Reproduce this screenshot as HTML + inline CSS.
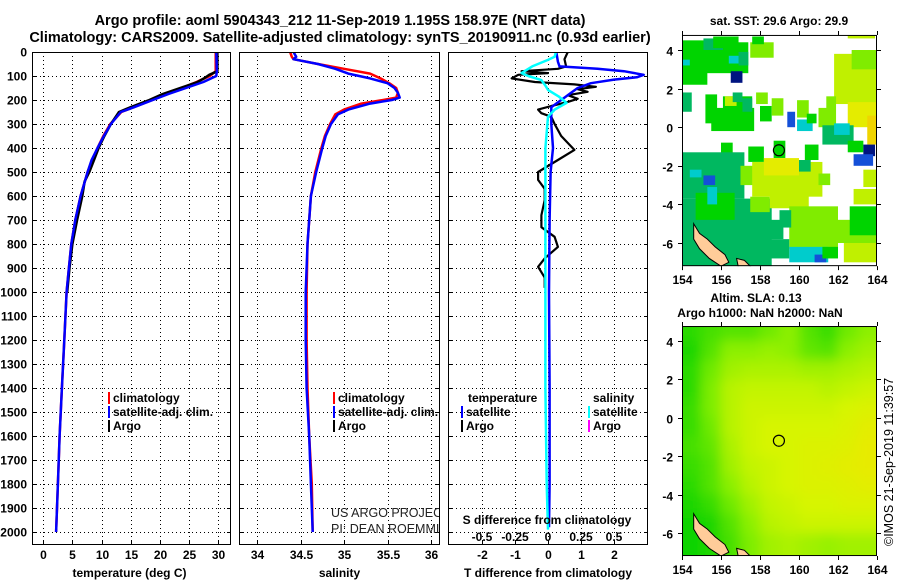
<!DOCTYPE html>
<html><head><meta charset="utf-8"><style>
body{margin:0;background:#fff}
svg{display:block;font-family:"Liberation Sans",sans-serif}
.b{font-weight:bold;font-size:12px}
</style></head><body>
<svg id="c" width="900" height="580" xmlns="http://www.w3.org/2000/svg"></svg>
<script>
// ---- data ----
const depthTicks=[0,100,200,300,400,500,600,700,800,900,1000,1100,1200,1300,1400,1500,1600,1700,1800,1900,2000];
const tempTicks=[0,5,10,15,20,25,30];
const salTicks=[34,34.5,35,35.5,36];
const tdTicks=[-2,-1,0,1,2];
const sdTicks=[-0.5,-0.25,0,0.25,0.5];
const sdTickLabels=["-0.5","-0.25","0","0.25","0.5"];
const argoDepth=[0,80,95,110,125,150,175,200,230,250,300,350,400,450,500,540,600,700,800,900,1000];
const argoTemp=[29.9,29.9,28.5,27.6,26.5,23.5,20.5,18.2,15,13,11.6,10.5,9.5,8.7,7.9,7.1,6.7,5.8,5.0,4.5,4.1];
const climDepth=[0,80,100,125,150,175,200,230,250,300,350,400,450,500,600,700,800,900,1000,1200,1400,1600,1800,2000];
const climTemp=[29.6,29.6,28.6,26.3,23.8,21,18.7,15.5,13.4,11.5,10.3,9.3,8.4,7.6,6.4,5.5,4.8,4.4,4.0,3.6,3.2,2.8,2.5,2.2];
const satTemp=[29.7,29.8,29.7,27.5,24.5,21.5,18.8,15.6,13.3,11.6,10.4,9.3,8.3,7.6,6.4,5.5,4.8,4.4,4.0,3.6,3.2,2.8,2.5,2.2];
const salDepth=[0,20,30,50,70,90,110,130,150,170,190,200,215,240,260,300,350,400,500,600,800,1000,1200,1400,1600,1800,2000];
const climSal=[34.38,34.4,34.42,34.7,35.0,35.3,35.42,35.52,35.6,35.62,35.6,35.45,35.2,35.0,34.9,34.84,34.78,34.74,34.67,34.62,34.58,34.57,34.57,34.58,34.6,34.63,34.64];
const satSal=[34.42,34.45,34.42,34.7,34.9,35.05,35.3,35.5,35.58,35.62,35.64,35.55,35.3,35.05,34.93,34.85,34.79,34.75,34.68,34.62,34.58,34.56,34.56,34.57,34.6,34.62,34.64];
const tdDepth=[0,40,60,70,80,95,105,115,130,150,170,190,210,230,260,300,400,500,700,1000,1400,1800,1980];
const satTdiff=[0.25,0.3,0.35,1.5,2.3,2.9,2.7,2.0,1.3,0.9,0.7,0.5,0.3,0.1,0.1,0.1,0.15,0.08,0.05,0.03,0.05,0.05,0.03];
const argoTdDepth=[0,30,60,70,80,88,95,110,125,135,145,155,166,180,195,208,225,240,255,270,300,350,408,450,500,533,570,617,680,730,770,812,860,895,940,983];
const argoTdiff=[0.6,0.5,0.55,0.3,-0.8,0.0,-0.9,-1.1,-0.4,0.8,1.45,0.9,1.2,0.6,0.9,0.6,0.1,-0.3,-0.2,0.1,0.2,0.4,0.8,0.3,-0.3,-0.3,-0.1,-0.1,-0.2,-0.2,0.2,0.3,-0.1,-0.3,-0.1,-0.1];
const sdDepth=[0,20,33,60,88,100,117,140,158,185,212,240,270,400,600,1000,1400,1800,1990];
const satSdiff=[0.06,0.05,0.0,-0.12,-0.2,-0.15,-0.05,-0.02,0.0,0.08,0.14,0.05,0.0,-0.02,-0.02,-0.02,-0.02,-0.01,0.0];
// SST map patches: lon, lat(bottom), dlon, dlat, colour class
const sstPatches=[[154,2.2,1.3,2.3,4],[154.8,2.8,2.6,1.6,4],[155.1,4.0,1,0.6,3],[155.6,4.1,1.3,0.6,4],[156.9,3.2,0.5,0.7,3],[154,3.2,0.4,0.3,2],[156.5,2.3,0.6,0.6,0],[156.4,3.3,0.5,0.4,2],[157.5,3.6,1.2,0.8,5],[157.6,4.3,0.6,0.4,4],[162.5,4.6,1.4,0.2,6],
[161.8,1.2,2.2,2.6,6],[162.7,3.0,1.3,1.0,5],[162.5,0.0,1.5,1.3,7],[163.5,-0.9,0.5,1.5,8],[161.4,-0.2,0.5,1.8,5],
[154,0.8,0.5,1.0,3],[155.2,0.2,0.6,1.5,4],[155.5,-0.2,2.2,1.2,4],[156.1,0.8,1.5,0.8,4],[156.2,1.1,0.6,0.5,6],[157.1,0.8,0.5,0.7,3],[158.0,0.3,0.6,0.8,4],[158.6,0.6,0.6,0.9,5],[159.9,0.5,0.6,0.9,5],[159.4,0.0,0.4,0.8,1],[159.9,-0.2,0.8,0.6,2],[160.4,0.2,0.5,0.5,4],[161,0.0,0.5,1.0,5],[157.8,1.2,0.6,0.6,5],[156.6,1.3,0.5,0.5,3],
[161.2,-0.9,1.6,1.0,3],[161.8,-0.4,0.8,0.6,2],[162.5,-1.3,0.8,0.6,4],[163.3,-1.5,0.6,0.6,0],[162.8,-2.0,1.0,0.6,1],[160.3,-1.7,0.7,0.8,4],[158.7,-1.6,0.6,0.9,4],[156.0,-1.5,0.6,0.7,4],[157.4,-1.8,0.8,0.8,4],
[154,-3.7,3.2,2.4,3],[154,-7.2,4.6,3.5,3],[154.7,-4.8,2.0,1.4,4],[157.0,-3.0,0.7,1.0,5],[155.1,-3.0,0.6,0.5,1],[155.3,-4.0,0.5,0.9,2],[154.4,-2.6,0.6,0.4,2],[157.5,-4.4,1.0,0.8,5],
[157.6,-3.6,3.6,1.8,6],[158.2,-2.5,1.8,0.9,7],[158.5,-4.2,2.0,0.8,6],[160.0,-2.3,0.6,0.6,3],[161.0,-3.0,0.6,0.6,5],
[159.5,-6.3,2.5,2.2,5],[161.8,-6.0,2.2,1.2,5],[162.6,-5.6,1.4,1.5,4],[159.5,-7.0,2.0,0.8,2],[160.8,-7.0,0.6,0.4,1],[162.3,-7.0,1.7,1.0,6],[162.8,-4.0,1.2,0.8,6],[163.3,-3.1,0.7,0.9,6],[161.2,-6.8,0.8,0.6,4],[157.6,-5.8,1.6,1.0,3],[158.3,-6.8,1.2,1.0,3],[159,-5.2,0.6,0.9,3]];
const sstColors=["#001480","#1450d8","#00cccc","#00b860","#00d400","#80ec00","#c0f000","#e4ec00","#f0d400"];
// SLA grid rows (top lat 4.5 -> bottom -6.5), cols lon 154.5..163.5
const slaLats=[4.5,3.5,2.5,1.5,0.5,-0.5,-1.5,-2.5,-3.5,-4.5,-5.5,-6.5];
const slaLons=[154.5,155.5,156.5,157.5,158.5,159.5,160.5,161.5,162.5,163.5];
const slaRows=[[0.15,0.25,0.3,0.3,0.4,0.5,0.3,0.2,0.4,0.5],[0.1,0.3,0.5,0.5,0.55,0.5,0.35,0.3,0.5,0.6],[0.15,0.4,0.6,0.65,0.65,0.65,0.6,0.6,0.65,0.7],[0.15,0.45,0.7,0.75,0.75,0.75,0.75,0.7,0.75,0.8],[0.2,0.45,0.7,0.8,0.8,0.8,0.8,0.8,0.85,0.9],[0.2,0.4,0.7,0.8,0.85,0.85,0.85,0.85,0.9,1.0],[0.25,0.35,0.65,0.8,0.85,0.85,0.9,0.9,0.95,1.05],[0.2,0.3,0.6,0.75,0.8,0.85,0.9,0.95,1.0,1.05],[0.15,0.3,0.5,0.7,0.8,0.85,0.9,0.9,0.95,1.0],[0.1,0.2,0.4,0.6,0.75,0.8,0.85,0.85,0.9,0.9],[0.05,0.1,0.3,0.5,0.7,0.75,0.8,0.8,0.8,0.8],[0.05,0.1,0.25,0.45,0.6,0.65,0.6,0.55,0.6,0.6]];
const latTicks=[4,2,0,-2,-4,-6];
const lonTicks=[154,156,158,160,162,164];
const argoLon=158.97, argoLat=-1.195;

// ---- helpers ----
const S=document.getElementById('c'),NS='http://www.w3.org/2000/svg';
function el(t,a,p){const e=document.createElementNS(NS,t);for(const k in a)e.setAttribute(k,a[k]);(p||S).appendChild(e);return e;}
function txt(x,y,s,a,p){const e=el('text',Object.assign({x:x,y:y},a),p);e.textContent=s;return e;}
const Y=d=>52+d*0.24, YB=545;
function lin(d0,d1,r0,r1){return v=>r0+(v-d0)*(r1-r0)/(d1-d0);}
function poly(xs,ys,fx,col,w,name,g){const pts=xs.map((v,i)=>fx(v).toFixed(1)+','+Y(ys[i]).toFixed(1)).join(' ');
 const e=el('polyline',{points:pts,fill:'none',stroke:col,'stroke-width':w,'stroke-linejoin':'round'},g);
 
 return e;}

const panels=[{x0:32,x1:231,f:lin(0,30,43.3,218),ticks:tempTicks,lab:tempTicks.map(String),title:'temperature (deg C)',n:'temperature-panel'},
 {x0:239,x1:440,f:lin(34,36,257,431),ticks:salTicks,lab:['34','34.5','35','35.5','36'],title:'salinity',n:'salinity-panel'},
 {x0:448,x1:648,f:lin(0,1,548,581),ticks:tdTicks,lab:tdTicks.map(String),title:'T difference from climatology',n:'difference-panel'}];

// title
const t1=txt(340,25,'Argo profile: aoml 5904343_212 11-Sep-2019 1.195S 158.97E (NRT data)',{'text-anchor':'middle','font-weight':'bold','font-size':'14.5px'});

const t2=txt(340,42,'Climatology: CARS2009. Satellite-adjusted climatology: synTS_20190911.nc (0.93d earlier)',{'text-anchor':'middle','font-weight':'bold','font-size':'14.5px'});


// depth labels
depthTicks.forEach(d=>{const e=txt(27,Y(d)+4.5,String(d),{'text-anchor':'end',class:'b'});
 });

const gs=[];
panels.forEach((p,i)=>{
 const g=el('g',{});gs.push(g);
 el('clipPath',{id:'cp'+i},g);el('rect',{x:p.x0,y:52,width:p.x1-p.x0,height:YB-52},g.lastChild);
 el('rect',{x:p.x0,y:52,width:p.x1-p.x0,height:YB-52,fill:'#fff'},g);
 const grid=el('g',{stroke:'#000','stroke-width':1,'stroke-dasharray':'1 3'},g);
 depthTicks.forEach(d=>el('line',{x1:p.x0,x2:p.x1,y1:Y(d)+.5,y2:Y(d)+.5},grid));
 p.ticks.forEach(v=>el('line',{x1:Math.round(p.f(v))+.5,x2:Math.round(p.f(v))+.5,y1:52,y2:YB},grid));
 const tk=el('g',{stroke:'#000','stroke-width':1},g);
 depthTicks.forEach(d=>{el('line',{x1:p.x0,x2:p.x0+4,y1:Y(d)+.5,y2:Y(d)+.5},tk);el('line',{x1:p.x1-4,x2:p.x1,y1:Y(d)+.5,y2:Y(d)+.5},tk);});
 p.ticks.forEach((v,j)=>{const x=Math.round(p.f(v))+.5;el('line',{x1:x,x2:x,y1:YB-4,y2:YB},tk);
  const e=txt(x,559,p.lab[j],{'text-anchor':'middle',class:'b'},g);});
 const at=txt((p.x0+p.x1)/2+(i==0?-2:0),577,p.title,{'text-anchor':'middle',class:'b','font-size':'12.5px'},g);
 
});
// panel 1 lines
const c1=el('g',{'clip-path':'url(#cp0)'},gs[0]);
poly(climTemp,climDepth,panels[0].f,'#f00',2.5,'temp-climatology-line',c1);
poly(argoTemp,argoDepth,panels[0].f,'#000',2.5,'temp-argo-line',c1);
poly(satTemp,climDepth,panels[0].f,'#00f',2.5,'temp-satellite-line',c1);
// panel 2
const c2=el('g',{'clip-path':'url(#cp1)'},gs[1]);
poly(climSal,salDepth,panels[1].f,'#f00',2.5,'sal-climatology-line',c2);
poly(satSal,salDepth,panels[1].f,'#00f',2.5,'sal-satellite-line',c2);
const pr=el('g',{'font-size':'12.5px','fill':'#222'},c2);
txt(331,517,'US ARGO PROJECT',{},pr);txt(331,533,'PI: DEAN ROEMMICH',{},pr);

// panel 3
const fs=v=>548+v*4*33;
const c3=el('g',{'clip-path':'url(#cp2)'},gs[2]);
poly(argoTdiff,argoTdDepth,panels[2].f,'#000',2.2,'tdiff-argo-line',c3);
poly(satTdiff,tdDepth,panels[2].f,'#00f',2.5,'tdiff-satellite-line',c3);
poly(satSdiff,sdDepth,fs,'#0ff',2.5,'sdiff-satellite-line',c3);
const st=txt(547,524,'S difference from climatology',{'text-anchor':'middle',class:'b','font-size':'12.5px'},gs[2]);

sdTicks.forEach((v,j)=>{const e=txt(fs(v),541,sdTickLabels[j],{'text-anchor':'middle',class:'b'},gs[2]);
 });
// frames
panels.forEach(p=>el('rect',{x:p.x0+.5,y:52.5,width:p.x1-p.x0-1,height:YB-53,fill:'none',stroke:'#000','stroke-width':1}));

// legends
function leg(x,y,col,label,name){const g=el('g',{});
 el('rect',{x:x,y:y-10,width:2,height:12,fill:col},g);txt(x+5,y,label,{class:'b'},g);}
leg(108,402,'#f00','climatology','legend-climatology');leg(108,416,'#00f','satellite-adj. clim.','legend-satellite');leg(108,430,'#000','Argo','legend-argo');
leg(333,402,'#f00','climatology','legend-climatology-sal');leg(333,416,'#00f','satellite-adj. clim.','legend-satellite-sal');leg(333,430,'#000','Argo','legend-argo-sal');
const lt=txt(468,402,'temperature',{class:'b'});
const ls=txt(593,402,'salinity',{class:'b'});
leg(461,416,'#00f','satellite','legend-t-satellite');leg(461,430,'#000','Argo','legend-t-argo');
leg(588,416,'#0ff','satellite','legend-s-satellite');leg(588,430,'#f0f','Argo','legend-s-argo');

// maps
function map(y0,y1,name,id){
 const mx0=682,mx1=877;const fx=lin(154,164,682,877),fy=lin(4,-6,y0,y1);
 const top=fy(4.78),bot=fy(-7.2);
 const g=el('g',{});
 el('clipPath',{id:id},g);el('rect',{x:mx0,y:top,width:mx1-mx0,height:bot-top},g.lastChild);
 const inner=el('g',{'clip-path':'url(#'+id+')'},g);
 return {g,inner,fx,fy,top,bot,mx0,mx1};
}
function axes(m){
 const tk=el('g',{stroke:'#000'},m.g);
 latTicks.forEach(v=>{const y=Math.round(m.fy(v))+.5;el('line',{x1:m.mx0,x2:m.mx0-4,y1:y,y2:y},tk);el('line',{x1:m.mx1,x2:m.mx1+4,y1:y,y2:y},tk);
  const e=txt(673,y+5,String(v),{'text-anchor':'end',class:'b','font-size':'13px'},m.g);});
 lonTicks.forEach(v=>{const x=Math.round(m.fx(v))+.5;el('line',{x1:x,x2:x,y1:m.top,y2:m.top-4},tk);el('line',{x1:x,x2:x,y1:m.bot,y2:m.bot+4},tk);
  const e=txt(x,m.bot+18,String(v),{'text-anchor':'middle',class:'b','font-size':'13px'},m.g);});
 el('rect',{x:m.mx0+.5,y:m.top+.5,width:m.mx1-m.mx0-1,height:m.bot-m.top-1,fill:'none',stroke:'#000'},m.g);
 const ci=el('circle',{cx:m.fx(argoLon),cy:m.fy(argoLat),r:5.5,fill:'none',stroke:'#000','stroke-width':1.2},m.g);
 
}
function land(m){
 const pts=[[154.6,-5.0],[154.9,-5.5],[155.3,-5.8],[155.7,-6.2],[156.2,-6.6],[156.4,-7.0],[156.0,-7.2],[155.4,-6.8],[154.9,-6.3],[154.6,-5.8]];
 const l=el('polygon',{points:pts.map(p=>m.fx(p[0])+','+m.fy(p[1])).join(' '),fill:'#fc9',stroke:'#000','stroke-width':1},m.inner);
 
 const p2=[[156.8,-6.8],[157.2,-6.9],[157.6,-7.3],[156.9,-7.3]];
 el('polygon',{points:p2.map(p=>m.fx(p[0])+','+m.fy(p[1])).join(' '),fill:'#fc9',stroke:'#000','stroke-width':1},m.inner);
}
// SST map
const m1=map(50,243,'sst-map','mc1');
sstPatches.forEach(p=>{const x=m1.fx(p[0]),y=m1.fy(p[1]+p[3]);
 const r=el('rect',{x:x,y:y,width:m1.fx(p[0]+p[2])-x,height:m1.fy(p[1])-y,fill:sstColors[p[4]]},m1.inner);
 
 });
land(m1);axes(m1);
const mt1=txt(779,25,'sat. SST: 29.6 Argo: 29.9',{'text-anchor':'middle',class:'b','font-size':'12.5px'});

// SLA map
const m2=map(341,533,'sla-map','mc2');
el('filter',{id:'bl',x:'-10%',y:'-10%',width:'120%',height:'120%'},m2.g);el('feGaussianBlur',{stdDeviation:6},m2.g.lastChild);
function slaCol(v){const a=[[0,[0,208,0]],[0.5,[140,240,0]],[0.85,[215,245,0]],[1.1,[235,232,0]]];
 for(let i=1;i<a.length;i++)if(v<=a[i][0]||i==a.length-1){const t=Math.max(0,Math.min(1,(v-a[i-1][0])/(a[i][0]-a[i-1][0])));
  const c=a[i-1][1].map((q,k)=>Math.round(q+(a[i][1][k]-q)*t));return 'rgb('+c+')';}}
const sg=el('g',{filter:'url(#bl)'},m2.inner);
slaRows.forEach((row,ri)=>row.forEach((v,ci)=>{const lat=slaLats[ri],lon=slaLons[ci];
 const x=m2.fx(lon-0.5),y=m2.fy(lat+0.5);
 const r=el('rect',{x:x-(ci==0?20:0),y:y-(ri==0?20:0),width:m2.fx(lon+0.5)-x+1+(ci==0?20:0)+(ci==row.length-1?20:0),height:m2.fy(lat-0.5)-y+1+(ri==0?20:0)+(ri==slaRows.length-1?20:0),fill:slaCol(v)},sg);
 
 }));
land(m2);axes(m2);
const mt2=txt(756,302,'Altim. SLA: 0.13',{'text-anchor':'middle',class:'b','font-size':'12.5px'});

const mt3=txt(760,317,'Argo h1000: NaN h2000: NaN',{'text-anchor':'middle',class:'b','font-size':'12.5px'});

const ts=txt(0,0,'©IMOS 21-Sep-2019 11:39:57',{transform:'translate(893,546) rotate(-90)','font-size':'12.5px'});

</script>
</body></html>
